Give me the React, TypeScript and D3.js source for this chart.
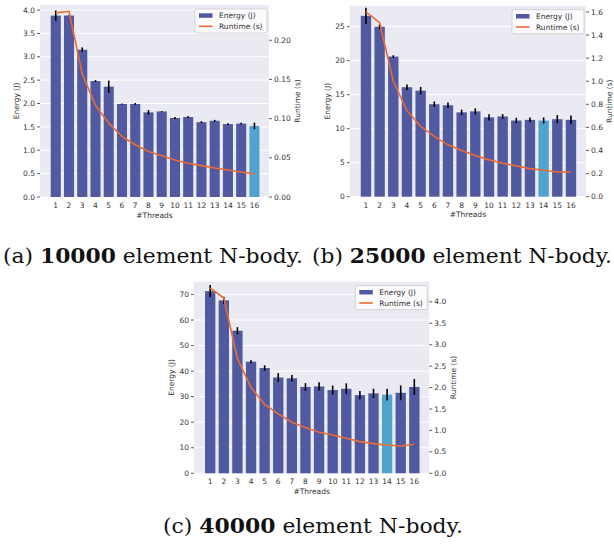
import React from 'react';
import * as d3 from 'd3';

// thread counts on the x axis
const threads = ['1', '2', '3', '4', '5', '6', '7', '8', '9', '10', '11', '12', '13', '14', '15', '16'];

// (a) 10000 elements
const energyA = [3.88, 3.88, 3.15, 2.48, 2.36, 1.99, 1.99, 1.81, 1.83, 1.69, 1.71, 1.6, 1.63, 1.56, 1.57, 1.52];
const errA = [0.11, 0.01, 0.05, 0.02, 0.13, 0.01, 0.02, 0.05, 0.01, 0.02, 0.02, 0.02, 0.02, 0.02, 0.02, 0.07];
const runtimeA = [0.235, 0.237, 0.157, 0.117, 0.094, 0.0774, 0.0667, 0.058, 0.0525, 0.0473, 0.043, 0.04, 0.037, 0.0344, 0.0318, 0.0295];

// (b) 25000 elements
const energyB = [26.6, 25.0, 20.6, 16.1, 15.6, 13.6, 13.45, 12.4, 12.55, 11.67, 11.8, 11.2, 11.3, 11.2, 11.4, 11.3];
const errB = [1.2, 0.35, 0.2, 0.4, 0.55, 0.4, 0.4, 0.4, 0.45, 0.45, 0.35, 0.4, 0.35, 0.45, 0.6, 0.65];
const runtimeB = [1.6, 1.507, 1.0, 0.745, 0.609, 0.522, 0.449, 0.4, 0.357, 0.319, 0.29, 0.267, 0.243, 0.229, 0.214, 0.214];

// (c) 40000 elements
const energyC = [71.3, 67.7, 55.8, 43.7, 41.2, 37.5, 37.2, 33.8, 34.0, 32.6, 33.1, 30.6, 31.3, 30.8, 31.5, 33.8];
const errC = [2.4, 1.4, 1.4, 0.6, 1.1, 1.7, 1.3, 1.5, 1.6, 1.75, 2.1, 1.6, 1.8, 2.3, 2.9, 3.1];
const runtimeC = [4.32, 4.09, 2.68, 2.0, 1.61, 1.385, 1.19, 1.066, 0.957, 0.895, 0.817, 0.739, 0.693, 0.661, 0.638, 0.677];

const ticksA = [0, 0.5, 1, 1.5, 2, 2.5, 3, 3.5, 4];
const rTicksA = [0, 0.05, 0.1, 0.15, 0.2];
const ticksB = [0, 5, 10, 15, 20, 25];
const rTicksB = [0, 0.2, 0.4, 0.6, 0.8, 1.0, 1.2, 1.4, 1.6];
const ticksC = [0, 10, 20, 30, 40, 50, 60, 70];
const rTicksC = [0, 0.5, 1.0, 1.5, 2.0, 2.5, 3.0, 3.5, 4.0];

const BAR = '#5159a1';
const BEST = '#51a3cf';
const LINE = '#ee6a30';
const BG = '#eaeaf2';
const INK = '#333333';
const SANS = 'DejaVu Sans';

type PanelProps = {
  left: number; right: number; top: number; bottom: number;
  energy: number[]; err: number[]; runtime: number[];
  eMax: number; rMax: number;
  eTicks: number[]; rTicks: number[];
  eFmt: string; rFmt: string;
  best: number;
  yLabelX: number; rLabelX: number;
};

function Panel(p: PanelProps) {
  const x = d3.scaleLinear().domain([-1.19, 16.1]).range([p.left, p.right]);
  const y = d3.scaleLinear().domain([0, p.eMax]).range([p.bottom, p.top]);
  const yr = d3.scaleLinear().domain([0, p.rMax]).range([p.bottom, p.top]);
  const bw = (x(1) - x(0)) * 0.76;
  const line = d3.line<number>().x((_, i) => x(i)).y(d => yr(d));
  const ef = d3.format(p.eFmt);
  const rf = d3.format(p.rFmt);
  const midY = (p.top + p.bottom) / 2;
  const lx = p.right - 74;
  const ly = p.top + 4;
  return (
    <g fontFamily={SANS} fontSize={7.5} fill={INK}>
      <rect x={p.left} y={p.top} width={p.right - p.left} height={p.bottom - p.top} fill={BG} />
      {p.eTicks.map(t => (
        <line key={'g' + t} x1={p.left} x2={p.right} y1={y(t)} y2={y(t)} stroke="#fff" strokeWidth={1} />
      ))}
      {p.energy.map((v, i) => (
        <rect key={'b' + i} x={x(i) - bw / 2} y={y(v)} width={bw} height={y(0) - y(v)}
          fill={i === p.best ? BEST : BAR} />
      ))}
      {p.energy.map((v, i) => (
        <line key={'e' + i} x1={x(i)} x2={x(i)} y1={y(v - p.err[i])} y2={y(v + p.err[i])}
          stroke="#000" strokeWidth={1.6} />
      ))}
      <path d={line(p.runtime) || ''} fill="none" stroke={LINE} strokeWidth={1.6} />
      {p.eTicks.map(t => (
        <g key={'l' + t}>
          <line x1={p.left - 3} x2={p.left} y1={y(t)} y2={y(t)} stroke={INK} strokeWidth={0.8} />
          <text x={p.left - 5} y={y(t)} dy="0.35em" textAnchor="end">{ef(t)}</text>
        </g>
      ))}
      {p.rTicks.map(t => (
        <g key={'r' + t}>
          <line x1={p.right} x2={p.right + 3} y1={yr(t)} y2={yr(t)} stroke={INK} strokeWidth={0.8} />
          <text x={p.right + 5} y={yr(t)} dy="0.35em">{rf(t)}</text>
        </g>
      ))}
      {threads.map((t, i) => (
        <text key={'x' + t} x={x(i)} y={p.bottom + 11} textAnchor="middle">{t}</text>
      ))}
      <text x={(p.left + p.right) / 2} y={p.bottom + 20.5} textAnchor="middle">#Threads</text>
      <text transform={`translate(${p.yLabelX},${midY}) rotate(-90)`} textAnchor="middle" dy="0.35em">Energy (J)</text>
      <text transform={`translate(${p.rLabelX},${midY}) rotate(-90)`} textAnchor="middle" dy="0.35em">Runtime (s)</text>
      <g>
        <rect x={lx} y={ly} width={72} height={24} rx={2} fill="#fff" fillOpacity={0.8} stroke="#cccccc" strokeWidth={0.8} />
        <rect x={lx + 4} y={ly + 4.3} width={13.5} height={4.5} fill={BAR} />
        <text x={lx + 24} y={ly + 9.3}>Energy (J)</text>
        <line x1={lx + 4} x2={lx + 17.5} y1={ly + 17.3} y2={ly + 17.3} stroke={LINE} strokeWidth={1.6} />
        <text x={lx + 24} y={ly + 20}>Runtime (s)</text>
      </g>
    </g>
  );
}

function Caption({ cx, y, tag, n }: { cx: number; y: number; tag: string; n: string }) {
  return (
    <text x={cx} y={y} textAnchor="middle" fontFamily="'DejaVu Serif', serif" fontSize={19.5} fill="#111"
      textLength={300} lengthAdjust="spacingAndGlyphs">
      ({tag}) <tspan fontWeight="bold">{n}</tspan> element N-body.
    </text>
  );
}

export default function App() {
  return (
    <svg width={614} height={548} style={{ position: 'absolute', left: 0, top: 0, background: '#fff' }}>
      <Panel left={40} right={269} top={5} bottom={197} energy={energyA} err={errA} runtime={runtimeA}
        eMax={4.107} rMax={0.245} eTicks={ticksA} rTicks={rTicksA} eFmt=".1f" rFmt=".2f" best={15}
        yLabelX={16} rLabelX={297.5} />
      <Panel left={349.7} right={586} top={5.7} bottom={196.7} energy={energyB} err={errB} runtime={runtimeB}
        eMax={28.09} rMax={1.654} eTicks={ticksB} rTicks={rTicksB} eFmt="d" rFmt=".1f" best={13}
        yLabelX={327.7} rLabelX={609.3} />
      <Panel left={194} right={429.3} top={281.7} bottom={473.3} energy={energyC} err={errC} runtime={runtimeC}
        eMax={75.0} rMax={4.47} eTicks={ticksC} rTicks={rTicksC} eFmt="d" rFmt=".1f" best={13}
        yLabelX={171.7} rLabelX={453.3} />
      <Caption cx={153} y={263} tag="a" n="10000" />
      <Caption cx={462} y={263} tag="b" n="25000" />
      <Caption cx={313} y={533} tag="c" n="40000" />
    </svg>
  );
}
